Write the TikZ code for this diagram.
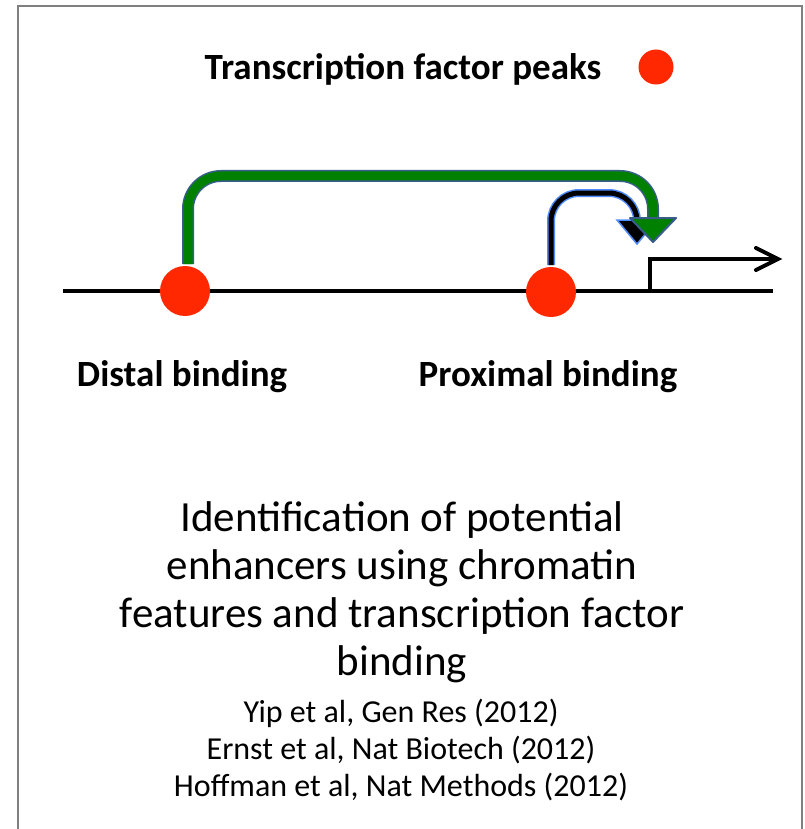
\documentclass[tikz,border=0pt]{standalone}
\usepackage{fontspec}
\setmainfont{Carlito}
\usetikzlibrary{arrows.meta}
\definecolor{tfred}{RGB}{255,40,0}
\definecolor{grn}{RGB}{0,128,0}
\definecolor{grnout}{RGB}{56,93,138}
\definecolor{blkout}{RGB}{80,140,255}
\definecolor{frame}{RGB}{128,128,128}
\tikzset{
  peak/.style={circle,fill=tfred,draw=none,minimum size=50pt,inner sep=0pt},
  lbl/.style={font=\bfseries\fontsize{37}{44}\selectfont,inner sep=0pt,anchor=base},
  ttl/.style={font=\fontsize{43}{48}\selectfont,inner sep=0pt,anchor=base},
  ref/.style={font=\fontsize{32}{37}\selectfont,inner sep=0pt,anchor=base},
  dna/.style={line width=4pt,black},
}
\begin{document}
\begin{tikzpicture}[x=1pt,y=-1pt]
\useasboundingbox (0,0) rectangle (804,829);
\draw[frame,line width=2pt] (18,835) -- (18,6) -- (802,6) -- (802,835);
% legend
\node[lbl] (legend) at (403,80) {Transcription factor peaks};
\node[circle,fill=tfred,minimum size=35pt,inner sep=0pt] (legdot) at (656,67) {};
% DNA line
\coordinate (l0) at (63,291);
\coordinate (l1) at (773,291);
\draw[dna] (l0) -- (l1);
% promoter arrow
\coordinate (tss) at (650,291);
\coordinate (tssup) at (650,259);
\coordinate (tssend) at (778,259);
\draw[line width=4pt,line cap=butt,line join=miter] (tss) -- (tssup) -- (tssend);
\draw[line width=4pt,line cap=round,line join=miter] (756,248) -- (tssend) -- (756,270);
% peaks
\node[peak] (d) at (185,291) {};
\node[peak] (p) at (551,292) {};
% proximal (black) arrow
\coordinate (pb) at (551,265);
\coordinate (pt) at (637,220);
\draw[blkout,line width=8pt,rounded corners=28pt] (pb) -- (551,193) -- (637,193) -- (pt);
\draw[black,line width=5pt,rounded corners=28pt] (pb) -- (551,193) -- (637,193) -- (pt);
\filldraw[fill=black,draw=blkout,line width=1.5pt] (617,220) -- (657,220) -- (637,244) -- cycle;
% distal (green) arrow
\coordinate (db) at (188,264);
\coordinate (dt) at (653,218);
\draw[grnout,line width=12pt,rounded corners=33pt] (db) -- (188,176) -- (653,176) -- (dt);
\draw[grn,line width=9pt,rounded corners=33pt] (db) -- (188,176) -- (653,176) -- (dt);
\filldraw[fill=grn,draw=grnout,line width=2pt,line join=round] (630,218) -- (676,218) -- (653,242) -- cycle;
% labels
\node[lbl] (dl) at (182,386) {Distal binding};
\node[lbl] (pl) at (548,386) {Proximal binding};
% title
\node[ttl] (t1) at (402,531) {Identification of potential};
\node[ttl] (t2) at (402,579) {enhancers using chromatin};
\node[ttl] (t3) at (402,627) {features and transcription factor};
\node[ttl] (t4) at (402,675) {binding};
% references
\node[ref] (r1) at (401,722) {Yip et al, Gen Res (2012)};
\node[ref] (r2) at (401,759) {Ernst et al, Nat Biotech (2012)};
\node[ref] (r3) at (401,796) {Hoffman et al, Nat Methods (2012)};
\end{tikzpicture}
\end{document}
